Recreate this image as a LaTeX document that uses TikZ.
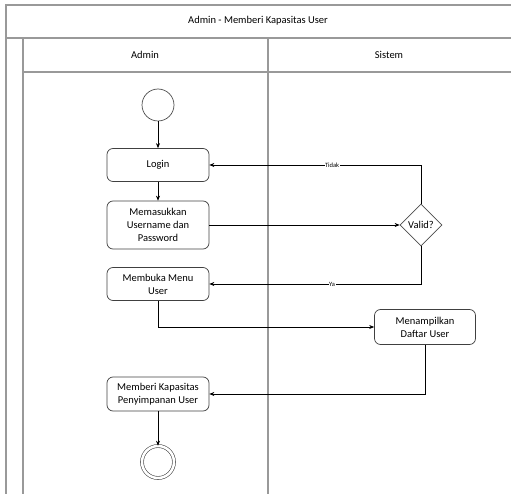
\documentclass[tikz,border=0pt]{standalone}
\usepackage{fontspec}
\setmainfont{Carlito}
\usetikzlibrary{arrows.meta, positioning, shapes.geometric}
\tikzstyle{arrow} = [black, line width=0.6pt, -{Stealth[length=5pt, width=4pt]}]
\tikzstyle{lane} = [draw=black!40, line width=1.3pt]
\tikzstyle{activity} = [draw=black!75, line width=0.7pt, rounded corners=6pt, minimum width=102pt, minimum height=33pt, align=center, inner sep=2pt]
\tikzstyle{guard} = [fill=white, inner sep=0.5pt, font=\fontsize{6.5}{7}\selectfont]

\begin{document}
\begin{tikzpicture}[x=1pt, y=-1pt, font=\fontsize{10.5}{13}\selectfont]
    \useasboundingbox (0,0) rectangle (511,494);
    % swimlane frame
    \draw[lane] (6,494) -- (6,5) -- (511,5);
    \draw[lane] (6,38) -- (511,38);
    \draw[lane] (23,494) -- (23,38);
    \draw[lane] (23,72) -- (511,72);
    \draw[lane] (268,38) -- (268,494);
    \node (title) at (258,21) {Admin - Memberi Kapasitas User};
    \node (laneadmin) at (145,55) {Admin};
    \node (lanesistem) at (389,55) {Sistem};

    % actions
    \node[circle, draw=black!70, line width=0.7pt, minimum size=32pt, inner sep=0pt] (start) at (158,105) {};
    \node[activity] (login) at (158,165) {Login};
    \node[activity, minimum height=48pt] (input) at (158,225) {Memasukkan\\Username dan\\Password};
    \node[diamond, draw=black!70, line width=0.7pt, minimum size=42pt, inner sep=0pt] (valid) at (421,225) {Valid?};
    \node[activity] (menu) at (158,284) {Membuka Menu\\User};
    \node[activity, minimum width=101pt, minimum height=35pt] (daftar) at (425,327) {Menampilkan\\Daftar User};
    \node[activity, minimum height=34pt] (kapasitas) at (158,394) {Memberi Kapasitas\\Penyimpanan User};
    \node[circle, draw=black!70, line width=0.6pt, minimum size=32pt, inner sep=0pt, double, double distance=2.5pt] (finish) at (158,462) {};

    % flows
    \draw[arrow] (start) -- (login);
    \draw[arrow] (login) -- (input);
    \draw[arrow] (input) -- (valid);
    \draw[arrow] (valid.north) |- node[pos=0.71, guard]{Tidak} (login.east);
    \draw[arrow] (valid.south) |- node[pos=0.71, guard]{Ya} (menu.east);
    \draw[arrow] (menu.south) |- (daftar.west);
    \draw[arrow] (daftar.south) |- (kapasitas.east);
    \draw[arrow] (kapasitas) -- (finish);
\end{tikzpicture}
\end{document}
